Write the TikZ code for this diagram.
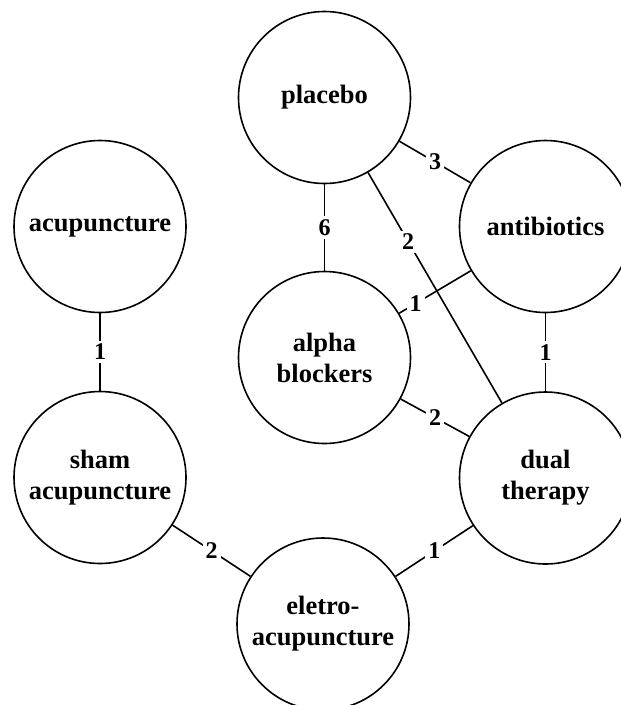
\documentclass[tikz,border=0pt]{standalone}
\usepackage{fontspec}
\setmainfont{Liberation Serif}
\begin{document}
\begin{tikzpicture}[x=1pt,y=-1pt,
  nd/.style={circle,draw,line width=1.6pt,minimum size=172pt,inner sep=0pt,align=center,
    font=\fontsize{26.5}{31}\selectfont\bfseries},
  lbl/.style={fill=white,inner sep=3pt,font=\fontsize{24}{26}\selectfont\bfseries},
  edgeline/.style={line width=1.6pt}]
\useasboundingbox (0,0) rectangle (621,705);
\clip (0,0) rectangle (621,705);
\node[nd] (pl) at (324.5,97.5) {placebo};
\node[nd] (ac) at (100,226.5) {acupuncture};
\node[nd] (an) at (545.5,226.5) {antibiotics};
\node[nd] (al) at (324.5,357.5) {alpha\\blockers};
\node[nd] (sh) at (100,477.5) {sham\\acupuncture};
\node[nd] (du) at (545.5,478) {dual\\therapy};
\node[nd] (el) at (323,624) {eletro-\\acupuncture};
\draw[edgeline] (pl) -- node[lbl]{3} (an);
\draw[edgeline] (pl) -- node[lbl,pos=0.3]{2} (du);
\draw[edgeline] (pl) -- node[lbl]{6} (al);
\draw[edgeline] (an) -- node[lbl,pos=0.77]{1} (al);
\draw[edgeline] (an) -- node[lbl]{1} (du);
\draw[edgeline] (al) -- node[lbl]{2} (du);
\draw[edgeline] (ac) -- node[lbl]{1} (sh);
\draw[edgeline] (sh) -- node[lbl]{2} (el);
\draw[edgeline] (du) -- node[lbl]{1} (el);
\end{tikzpicture}
\end{document}
